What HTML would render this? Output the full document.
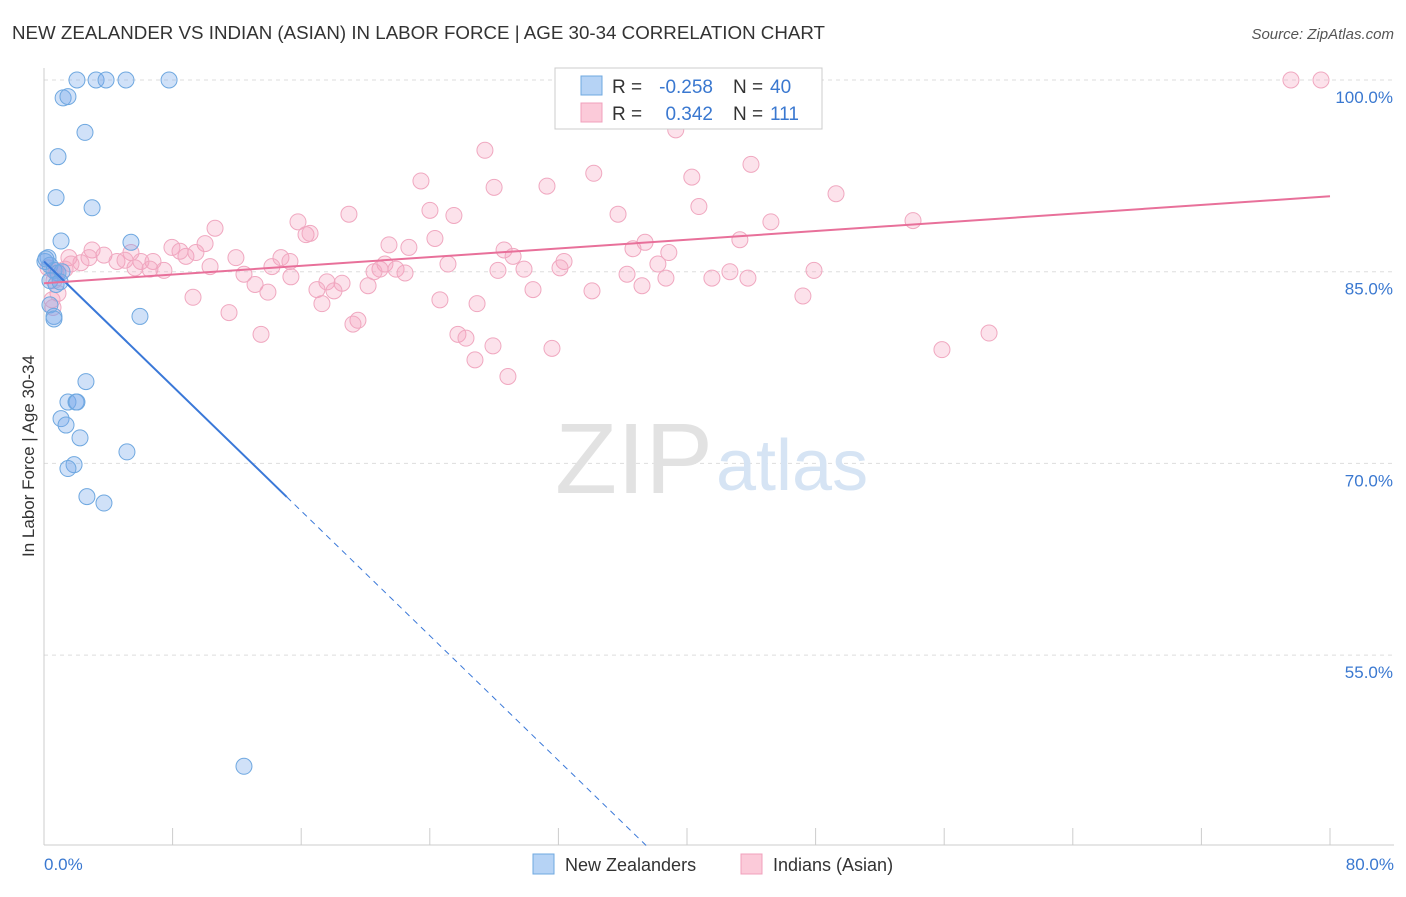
<!DOCTYPE html>
<html><head><meta charset="utf-8"><style>
body{margin:0;background:#fff;font-family:"Liberation Sans",sans-serif}
svg text{font-family:"Liberation Sans",sans-serif}
</style></head><body>
<svg width="1406" height="892">
<text x="12" y="39" font-size="18" fill="#333" textLength="813" lengthAdjust="spacingAndGlyphs">NEW ZEALANDER VS INDIAN (ASIAN) IN LABOR FORCE | AGE 30-34 CORRELATION CHART</text>
<text x="1394" y="39" font-size="15" fill="#555" font-style="italic" text-anchor="end">Source: ZipAtlas.com</text>
<g id="grid"></g>
<g id="axes"></g>
<text x="555" y="493" font-size="100" fill="#e2e2e2" font-family="Liberation Serif" textLength="158" lengthAdjust="spacingAndGlyphs">ZIP</text>
<text x="716" y="490" font-size="72" fill="#d6e4f4">atlas</text>
<g id="pink"></g><g id="blue"></g><g id="lines"></g>
<text transform="translate(34,456) rotate(-90)" font-size="17" fill="#333" text-anchor="middle">In Labor Force | Age 30-34</text>
<g>
<rect x="555" y="68" width="267" height="61" fill="#fff" stroke="#ccc"/>
<rect x="581" y="76" width="21" height="19" fill="#b6d3f5" stroke="#6fa8e0"/>
<rect x="581" y="103" width="21" height="19" fill="#fbcad9" stroke="#f0a0bc"/>
<text x="612" y="93" font-size="19" fill="#333">R =</text>
<text x="713" y="93" font-size="19" fill="#3a78d0" text-anchor="end">-0.258</text>
<text x="733" y="93" font-size="19" fill="#333">N =</text>
<text x="770" y="93" font-size="19" fill="#3a78d0">40</text>
<text x="612" y="120" font-size="19" fill="#333">R =</text>
<text x="713" y="120" font-size="19" fill="#3a78d0" text-anchor="end">0.342</text>
<text x="733" y="120" font-size="19" fill="#333">N =</text>
<text x="770" y="120" font-size="19" fill="#3a78d0">111</text>
</g>
<g>
<rect x="533" y="854" width="21" height="20" fill="#b6d3f5" stroke="#6fa8e0"/>
<text x="565" y="871" font-size="18" fill="#333">New Zealanders</text>
<rect x="741" y="854" width="21" height="20" fill="#fbcad9" stroke="#f0a0bc"/>
<text x="773" y="871" font-size="18" fill="#333">Indians (Asian)</text>
</g>
</svg>
<script>
const yTicks=[100,85,70,55];
const xTickLabels=["0.0%","80.0%"];
const blueX=[2.05,3.24,3.86,5.1,7.78,1.19,1.49,2.55,0.87,0.75,2.99,1.06,5.41,0.25,0.06,0.37,0.62,0.87,1.12,0.37,0.75,1.0,0.37,0.62,0.62,5.97,2.61,1.49,1.99,2.05,1.06,1.37,2.24,5.16,1.87,1.49,2.67,3.73,12.44,0.12];
const blueY=[100,100,100,100,100,98.6,98.7,95.9,94.0,90.8,90.0,87.4,87.3,86.1,85.8,85.5,85.1,84.9,85.0,84.3,84.0,84.2,82.4,81.5,81.3,81.5,76.4,74.8,74.8,74.8,73.5,73.0,72.0,70.9,69.9,69.6,67.4,66.9,46.3,86.0];
const pinkX=[46.9,77.57,79.44,39.3,27.43,43.98,34.2,23.45,28.0,31.29,40.3,49.27,40.74,24.01,25.5,18.97,35.71,54.06,45.22,15.8,10.64,16.3,16.55,24.32,21.46,10.02,43.29,37.39,36.64,38.87,28.62,29.18,22.7,2.99,3.73,5.41,2.8,1.55,11.94,14.74,7.96,8.83,9.45,8.46,6.78,4.54,2.3,1.68,6.03,5.04,15.3,32.35,38.19,25.13,10.33,14.18,12.44,21.21,20.9,20.53,21.9,22.46,5.66,6.59,7.46,29.86,28.24,32.1,47.9,42.67,43.79,41.55,36.27,38.69,1.31,0.75,0.25,0.62,0.87,0.5,0.56,15.36,17.6,18.54,20.16,13.13,13.93,16.98,18.04,9.27,30.42,34.09,37.2,24.63,26.94,47.21,17.29,11.51,19.53,19.22,13.5,25.75,26.25,27.93,31.6,55.86,58.79,26.81,28.86,0.75];
const pinkY=[100,100,100,96.1,94.5,93.4,92.7,92.1,91.6,91.7,92.4,91.1,90.1,89.8,89.4,89.5,89.5,89.0,88.9,88.9,88.4,87.9,88.0,87.6,87.1,87.2,87.5,87.3,86.8,86.5,86.7,86.2,86.9,86.7,86.3,86.5,86.1,86.1,86.1,86.1,86.9,86.2,86.5,86.6,85.8,85.8,85.7,85.6,85.8,85.9,85.8,85.8,85.6,85.6,85.4,85.4,84.8,85.6,85.2,85.0,85.2,84.9,85.3,85.2,85.1,85.2,85.1,85.3,85.1,85.0,84.5,84.5,84.8,84.5,85.2,85.1,85.3,84.3,83.3,82.8,82.2,84.6,84.2,84.1,83.9,84.0,83.4,83.6,83.5,83.0,83.6,83.5,83.9,82.8,82.5,83.1,82.5,81.8,81.2,80.9,80.1,80.1,79.8,79.2,79.0,78.9,80.2,78.1,76.8,84.9,85.7];
const blueFit=[85.8,-1.22,15.1];
const pinkFit=[84.1,90.9];
const X0=44,X1=1330,YT=80,PX=12.78;
const sx=v=>X0+(X1-X0)*v/80, sy=v=>YT+(100-v)*PX;
const NS="http://www.w3.org/2000/svg";
function mk(tag,at,parent){const e=document.createElementNS(NS,tag);for(const k in at)e.setAttribute(k,at[k]);document.getElementById(parent).appendChild(e);return e;}
yTicks.forEach(t=>{
 const l=mk("line",{x1:X0,x2:1394,y1:sy(t),y2:sy(t),stroke:"#ddd","stroke-dasharray":"4,4"},"grid");
 
 
 const tx=mk("text",{x:1393,y:sy(t)+23,"font-size":"17",fill:"#3a78d0","text-anchor":"end"},"grid");
 tx.textContent=t.toFixed(1)+"%";
 
 
});
mk("line",{x1:X0,x2:X0,y1:68,y2:845,stroke:"#ccc"},"axes");
mk("line",{x1:X0,x2:1394,y1:845,y2:845,stroke:"#ccc"},"axes");
for(let i=0;i<=10;i++){const t=mk("line",{x1:sx(i*8),x2:sx(i*8),y1:828,y2:845,stroke:"#ccc"},"axes");
 
 }
[[0,"start",44],[80,"end",1394]].forEach((d,i)=>{const t=mk("text",{x:d[2],y:870,"font-size":"17",fill:"#3a78d0","text-anchor":d[1]},"axes");t.textContent=xTickLabels[i];
 
 });
pinkX.forEach((x,i)=>{const c=mk("circle",{cx:sx(x),cy:sy(pinkY[i]),r:8,fill:"rgba(244,160,190,0.3)",stroke:"#f0a8c0","stroke-width":1},"pink");
 
 });
blueX.forEach((x,i)=>{const c=mk("circle",{cx:sx(x),cy:sy(blueY[i]),r:8,fill:"rgba(120,170,235,0.35)",stroke:"#6fa8e0","stroke-width":1},"blue");
 
 });
const bf=x=>blueFit[0]+blueFit[1]*x;
const xe=(40.1-blueFit[0])/blueFit[1];
let l=mk("line",{x1:sx(0),y1:sy(bf(0)),x2:sx(blueFit[2]),y2:sy(bf(blueFit[2])),stroke:"#3a78d8","stroke-width":2},"lines");


l=mk("line",{x1:sx(blueFit[2]),y1:sy(bf(blueFit[2])),x2:sx(xe),y2:sy(bf(xe)),stroke:"#3a78d8","stroke-width":1,"stroke-dasharray":"6,5"},"lines");


l=mk("line",{x1:sx(0),y1:sy(pinkFit[0]),x2:sx(80),y2:sy(pinkFit[1]),stroke:"#e8709a","stroke-width":2},"lines");


</script>
</body></html>
